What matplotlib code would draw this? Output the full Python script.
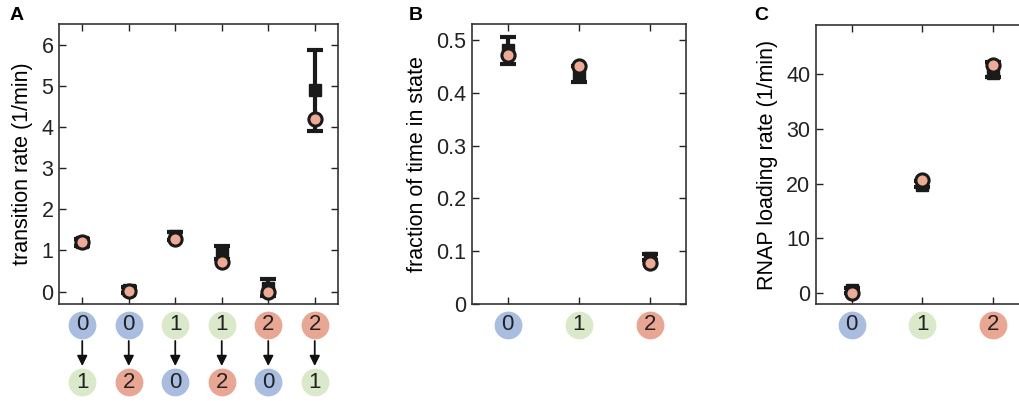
import matplotlib.pyplot as plt
import matplotlib.transforms as mtransforms
import numpy as np

plt.rcParams['font.family'] = ['Liberation Sans', 'DejaVu Sans']
plt.rcParams['font.size'] = 15

# state colours
state_colors = {0: '#a8bde0', 1: '#d9e9c9', 2: '#e9a793'}
dot_color = '#eeaa94'

# A: transition rates
trans_from = [0, 0, 1, 1, 2, 2]
trans_to = [1, 2, 0, 2, 0, 1]
rate_mean = [1.2, 0.05, 1.35, 0.95, 0.1, 4.9]
rate_lo = [1.12, -0.03, 1.25, 0.8, -0.1, 3.9]
rate_hi = [1.27, 0.12, 1.45, 1.12, 0.3, 5.87]
rate_fit = [1.2, 0.02, 1.27, 0.72, 0.0, 4.2]

# B: occupancy
states = [0, 1, 2]
frac_mean = [0.48, 0.435, 0.088]
frac_lo = [0.455, 0.42, 0.083]
frac_hi = [0.505, 0.45, 0.095]
frac_fit = [0.472, 0.45, 0.077]

# C: loading rates
load_mean = [0.5, 19.8, 40.3]
load_lo = [0.0, 19.3, 39.5]
load_hi = [1.0, 20.5, 42.2]
load_fit = [0.0, 20.7, 41.6]

fig = plt.figure(figsize=(10.2, 4.01), dpi=100)
W, H = 1020, 401


def make_ax(left, right, top, bottom):
    return fig.add_axes([left / W, 1 - bottom / H, (right - left) / W, (bottom - top) / H])


def style(ax):
    ax.tick_params(direction='in', top=True, right=True, length=5, width=1,
                   labelsize=15.5, pad=4, colors='#222222')
    for s in ax.spines.values():
        s.set_linewidth(1.2)
        s.set_color('#333333')


def draw(ax, x, mean, lo, hi, fit):
    mean = np.array(mean)
    err = [mean - np.array(lo), np.array(hi) - mean]
    ax.errorbar(x, mean, yerr=err, fmt='s', color='#1a1a1a', ms=8,
                elinewidth=3, capsize=6, capthick=3, zorder=3)
    ax.plot(x, fit, 'o', ms=9.5, mfc=dot_color, mec='#1a1a1a', mew=2.2, zorder=4)


def state_badge(ax, x, y_px, state):
    # circle badge below the axes, y given in pixels below the bottom spine
    trans = mtransforms.blended_transform_factory(ax.transData, ax.transAxes)
    bbox = ax.get_position()
    y = -y_px / (bbox.height * H)
    ax.plot([x], [y], 'o', ms=20, color=state_colors[state], mec='none',
            transform=trans, clip_on=False)
    ax.text(x, y, str(state), transform=trans, ha='center', va='center',
            fontsize=16, color='#222222')
    return trans, y


# panel A
axA = make_ax(59, 338, 24, 304)
xA = np.arange(len(trans_from))
draw(axA, xA, rate_mean, rate_lo, rate_hi, rate_fit)
axA.set_xlim(-0.5, 5.5)
axA.set_ylim(-0.3, 6.5)
axA.set_yticks(range(7))
axA.set_xticks(xA)
axA.set_xticklabels([])
axA.set_ylabel('transition rate (1/min)', fontsize=15.5, labelpad=6)
style(axA)
hA = axA.get_position().height * H
for i in xA:
    trans, y0 = state_badge(axA, i, 21, trans_from[i])
    trans, y1 = state_badge(axA, i, 78, trans_to[i])
    axA.annotate('', xy=(i, -62 / hA), xytext=(i, -37 / hA),
                 xycoords=trans, textcoords=trans,
                 arrowprops=dict(arrowstyle='-|>', color='#111111', lw=1.3,
                                 mutation_scale=15, shrinkA=0, shrinkB=0))
fig.text(10 / W, 1 - 15 / H, 'A', fontsize=14, fontweight='bold', va='center')

# panel B
axB = make_ax(472, 686, 24, 304)
draw(axB, states, frac_mean, frac_lo, frac_hi, frac_fit)
axB.set_xlim(-0.5, 2.5)
axB.set_ylim(0, 0.53)
axB.set_yticks([0, 0.1, 0.2, 0.3, 0.4, 0.5])
axB.set_yticklabels(['0', '0.1', '0.2', '0.3', '0.4', '0.5'])
axB.set_xticks(states)
axB.set_xticklabels([])
axB.set_ylabel('fraction of time in state', fontsize=15.5, labelpad=6)
style(axB)
for s in states:
    state_badge(axB, s, 21, s)
fig.text(409 / W, 1 - 15 / H, 'B', fontsize=14, fontweight='bold', va='center')

# panel C
axC = make_ax(816, 1029, 25, 304)
draw(axC, states, load_mean, load_lo, load_hi, load_fit)
axC.set_xlim(-0.5, 2.5)
axC.set_ylim(-2, 49)
axC.set_yticks([0, 10, 20, 30, 40])
axC.set_xticks(states)
axC.set_xticklabels([])
axC.set_ylabel('RNAP loading rate (1/min)', fontsize=15.5, labelpad=6)
style(axC)
for s in states:
    state_badge(axC, s, 21, s)
fig.text(754 / W, 1 - 15 / H, 'C', fontsize=14, fontweight='bold', va='center')

fig.savefig('out.png', dpi=100)
